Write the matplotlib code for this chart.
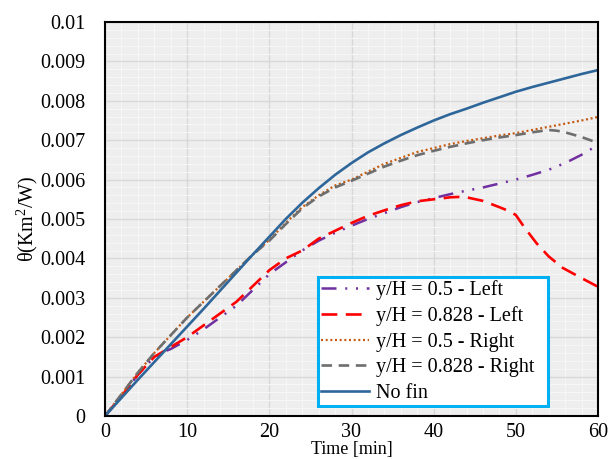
import matplotlib.pyplot as plt
from matplotlib.ticker import MultipleLocator, FixedLocator

# time [min] and theta [Km2/W]
t_nofin = [0, 2, 4, 6, 8, 10, 12, 14, 16, 18, 20, 22, 24, 26, 28, 30, 32, 34, 36, 38, 40,
           42, 44, 46, 48, 50, 52, 54, 56, 58, 60]
th_nofin = [0, 0.00046, 0.00092, 0.00137, 0.00182, 0.00227, 0.00272, 0.00318, 0.00364, 0.0041, 0.00455,
            0.005, 0.00541, 0.00578, 0.00612, 0.00642, 0.00669, 0.00692, 0.00713, 0.00732, 0.0075,
            0.00766, 0.0078, 0.00795, 0.00809, 0.00823, 0.00835, 0.00846, 0.00857, 0.00868, 0.00878]

t_r05 = [0, 2, 4, 6, 8, 10, 12, 14, 16, 18, 20, 22, 24, 26, 28, 30, 32, 34, 36, 38, 40,
         42, 44, 46, 48, 50, 52, 54, 56, 58, 60]
th_r05 = [0, 0.00055, 0.0011, 0.0016, 0.00205, 0.0025, 0.0029, 0.0033, 0.0037, 0.0041, 0.00447,
          0.0049, 0.0053, 0.0056, 0.00585, 0.006, 0.0062, 0.0064, 0.00655, 0.0067, 0.0068,
          0.0069, 0.00698, 0.00705, 0.00712, 0.00718, 0.00726, 0.00734, 0.00742, 0.0075, 0.00759]

t_r0828 = [0, 2, 4, 6, 8, 10, 12, 14, 16, 18, 20, 22, 24, 26, 28, 30, 32, 34, 36, 38, 40,
           42, 44, 46, 48, 50, 52, 54, 55, 56, 58, 60]
th_r0828 = [0, 0.00055, 0.0011, 0.0016, 0.00205, 0.0025, 0.0029, 0.0033, 0.0037, 0.0041, 0.00445,
            0.00487, 0.00527, 0.00557, 0.0058, 0.00597, 0.00615, 0.00633, 0.00648, 0.00662, 0.00673,
            0.00683, 0.00692, 0.007, 0.00707, 0.00713, 0.0072, 0.00726, 0.00724, 0.0072, 0.00708, 0.00693]

t_l05 = [0, 2, 4, 6, 7.5, 8, 10, 12, 14, 16, 18, 20, 22, 24, 26, 28, 30, 32, 34, 36, 38, 40,
         42, 44, 46, 48, 50, 52, 54, 56, 58, 60]
th_l05 = [0, 0.0005, 0.00105, 0.0015, 0.00166, 0.0017, 0.00193, 0.0022, 0.0025, 0.0028, 0.0032, 0.0036,
          0.0039, 0.0042, 0.00445, 0.00465, 0.00483, 0.005, 0.00515, 0.0053, 0.00543, 0.00553,
          0.00563, 0.00572, 0.0058, 0.0059, 0.006, 0.00612, 0.00625, 0.00642, 0.00663, 0.00688]

t_l0828 = [0, 2, 4, 6, 8, 10, 12, 14, 16, 18, 20, 22, 24, 26, 28, 30, 32, 34, 36, 38, 40,
           42, 43, 44, 46, 48, 49.3, 50, 51, 52.5, 54, 55.7, 58, 60]
th_l0828 = [0, 0.0005, 0.00105, 0.0015, 0.00175, 0.002, 0.0023, 0.0026, 0.0029, 0.0033, 0.0037,
            0.004, 0.0042, 0.0045, 0.0047, 0.0049, 0.00508, 0.00522, 0.00535, 0.00545, 0.0055,
            0.00555, 0.00556, 0.00555, 0.00546, 0.0053, 0.00519, 0.0051, 0.0048, 0.00439, 0.00405,
            0.00376, 0.0035, 0.00328]

ylabels = ['0', '0.001', '0.002', '0.003', '0.004', '0.005', '0.006', '0.007', '0.008', '0.009', '0.01']

plt.rcParams['font.family'] = ['Liberation Serif', 'DejaVu Serif']

fig = plt.figure(figsize=(6.08, 4.59), dpi=100)
ax = fig.add_axes([105 / 608, 1 - 416 / 459, 493 / 608, 394 / 459])
ax.set_facecolor('#eeeeee')

ax.plot(t_l05, th_l05, color='#7030a0', lw=1.8, dashes=[6, 3.5, 0.8, 3.5, 0.8, 3.5], label='y/H = 0.5 - Left')
ax.plot(t_l0828, th_l0828, color='#ff0000', lw=1.9, dashes=[6, 3.2], label='y/H = 0.828 - Left')
ax.plot(t_r05, th_r05, color='#c55a11', lw=1.6, dashes=[0.9, 1.2], label='y/H = 0.5 - Right')
ax.plot(t_r0828, th_r0828, color='#6e6e6e', lw=1.9, dashes=[4, 2.5], label='y/H = 0.828 - Right')
ax.plot(t_nofin, th_nofin, color='#2e6699', lw=1.9, label='No fin')

ax.set_xlim(0, 60)
ax.set_ylim(0, 0.01)
ax.xaxis.set_major_locator(MultipleLocator(10))
ax.xaxis.set_minor_locator(FixedLocator([v for v in range(0, 61, 2) if v % 10]))
ax.set_yticks([i * 0.001 for i in range(11)])
ax.set_yticklabels(ylabels)
ax.yaxis.set_minor_locator(FixedLocator([i * 0.0002 for i in range(51) if i % 5]))
ax.grid(which='major', color='#d9d9d9', lw=1)
ax.grid(which='minor', color='#f6f6f6', lw=0.8)
ax.set_axisbelow(True)
ax.tick_params(which='both', length=0, labelsize=14.5)
ax.tick_params(axis='x', pad=5)
ax.tick_params(axis='y', pad=14)
for s in ax.spines.values():
    s.set_linewidth(1.5)
    s.set_color('black')

ax.set_xlabel('Time [min]', fontsize=13)
ax.xaxis.set_label_coords(0.5, -0.106, transform=ax.transAxes)
ax.xaxis.label.set_va('bottom')
ax.set_ylabel(r'$\mathregular{\theta(Km^2/W)}$', fontsize=14.5)
ax.yaxis.set_label_coords(-0.132, 0.5)

leg = ax.legend(loc='lower left', bbox_to_anchor=(213 / 493, 10 / 394, 230 / 493, 130 / 394), mode='expand',
                fontsize=14.5, handlelength=2.4, handletextpad=0.35, borderpad=0.15, labelspacing=0.32,
                borderaxespad=0, fancybox=False, framealpha=1)
leg.get_frame().set_edgecolor('#00b0f0')
leg.get_frame().set_linewidth(2.2)

fig.savefig('out.png', dpi=100)
